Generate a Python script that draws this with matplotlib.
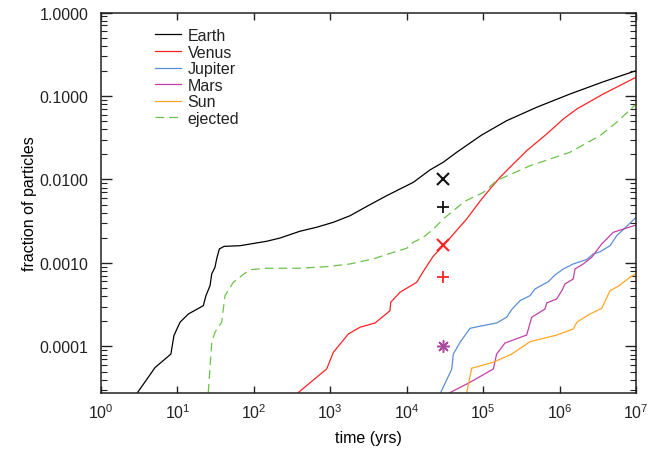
import numpy as np
import matplotlib
matplotlib.use("Agg")
import matplotlib.pyplot as plt
from matplotlib.ticker import FixedLocator, FuncFormatter, LogLocator, NullLocator

plt.rcParams['font.family'] = ['Liberation Sans', 'DejaVu Sans']
plt.rcParams['mathtext.default'] = 'regular'
plt.rcParams['font.size'] = 11.5
plt.rcParams['text.color'] = '#222222'

# ---- data (time in yrs, fraction of particles) ----
earth_t = [3.0, 5.1, 8.2, 9.0, 10.8, 13.9, 21.8, 23.6, 26.7, 28.1, 31.0, 32.6, 35.3, 40.7,
           65.9, 147, 220, 401, 664, 1095, 1810, 2990, 5470, 12200, 20100, 30100, 45100,
           95700, 203000, 502000, 1.37e6, 3.73e6, 1e7]
earth_f = [2.8e-5, 5.6e-5, 8.1e-5, 1.35e-4, 1.95e-4, 2.45e-4, 3.08e-4, 4.06e-4, 5.35e-4, 7.4e-4,
           8.9e-4, 1.12e-3, 1.47e-3, 1.58e-3, 1.61e-3, 1.82e-3, 1.99e-3, 2.40e-3, 2.68e-3,
           3.07e-3, 3.68e-3, 4.75e-3, 6.4e-3, 9.25e-3, 0.0130, 0.0161, 0.0212, 0.0341, 0.0506,
           0.0733, 0.1057, 0.148, 0.201]

venus_t = [380, 897, 1095, 1720, 2450, 3850, 6040, 6170, 8170, 13500, 17300, 22300, 30100,
           42800, 61000, 91000, 123000, 166000, 224000, 371000, 679000, 1.12e6, 1.68e6,
           3.73e6, 1e7]
venus_f = [2.8e-5, 5.38e-5, 8.5e-5, 1.41e-4, 1.70e-4, 1.91e-4, 2.68e-4, 3.38e-4, 4.46e-4,
           5.87e-4, 8.5e-4, 1.21e-3, 1.61e-3, 2.33e-3, 3.37e-3, 5.5e-3, 7.7e-3, 0.0106, 0.014,
           0.0221, 0.0351, 0.0531, 0.0699, 0.1057, 0.1675]

jupiter_t = [27800, 38800, 40700, 49800, 67300, 91000, 150000, 203000, 236000, 304000, 410000,
             477000, 712000, 871000, 1.12e6, 1.51e6, 2.26e6, 2.76e6, 3.38e6, 4.57e6, 5.59e6,
             6.82e6, 1e7]
jupiter_f = [2.8e-5, 5.35e-5, 8.1e-5, 1.12e-4, 1.65e-4, 1.75e-4, 1.91e-4, 2.24e-4, 2.76e-4,
             3.54e-4, 4.06e-4, 4.88e-4, 5.97e-4, 7.18e-4, 8.48e-4, 9.73e-4, 1.10e-3, 1.28e-3,
             1.36e-3, 1.61e-3, 2.12e-3, 2.51e-3, 3.52e-3]

mars_t = [36800, 67300, 136000, 150000, 193000, 371000, 432000, 645000, 678000, 917000,
          1.07e6, 1.18e6, 1.51e6, 1.59e6, 2.04e6, 2.63e6, 3.56e6, 5.05e6, 1e7]
mars_f = [2.8e-5, 3.72e-5, 5.38e-5, 8.1e-5, 1.10e-4, 1.37e-4, 2.24e-4, 2.81e-4, 3.32e-4,
          3.71e-4, 4.66e-4, 5.61e-4, 6.43e-4, 8.48e-4, 9.73e-4, 1.17e-3, 1.69e-3, 2.33e-3,
          2.85e-3]

sun_t = [61000, 70800, 136000, 236000, 410000, 917000, 1.51e6, 1.68e6, 2.50e6, 3.56e6,
         4.57e6, 5.87e6, 8.34e6, 1e7]
sun_f = [2.8e-5, 5.48e-5, 6.47e-5, 8.1e-5, 1.14e-4, 1.37e-4, 1.62e-4, 1.95e-4, 2.45e-4,
         2.86e-4, 4.66e-4, 5.26e-4, 6.74e-4, 7.4e-4]

ejected_t = [25.3, 28.1, 31.0, 37.9, 41.9, 53.8, 74.3, 89.1, 147, 401, 897, 1810, 3650, 6670,
             10000, 12200, 16500, 22300, 30100, 57800, 100500, 150000, 410000, 1.37e6,
             3.38e6, 5.59e6, 1e7]
ejected_f = [2.8e-5, 1.12e-4, 1.48e-4, 1.95e-4, 4.06e-4, 5.87e-4, 7.4e-4, 8.3e-4, 8.65e-4,
             8.65e-4, 9.04e-4, 9.73e-4, 1.12e-3, 1.34e-3, 1.50e-3, 1.77e-3, 2.03e-3, 2.55e-3,
             3.37e-3, 5.5e-3, 7.0e-3, 9.7e-3, 0.0146, 0.0212, 0.0335, 0.0484, 0.080]

marker_t = 3.0e4
earth_x_f, earth_plus_f = 0.0101, 0.0047
venus_x_f, venus_plus_f = 0.00162, 0.00068
star_f = 0.0001

labels = ['Earth', 'Venus', 'Jupiter', 'Mars', 'Sun', 'ejected']
colors = ['#000000', '#ff2222', '#5b8fd4', '#c040a8', '#ffa526', '#6cc24a']

fig = plt.figure(figsize=(6.59, 4.52), dpi=100)
ax = fig.add_axes([0.1533, 0.1283, 0.8118, 0.8418])

lw = 0.9
series = [(earth_t, earth_f), (venus_t, venus_f), (jupiter_t, jupiter_f),
          (mars_t, mars_f), (sun_t, sun_f)]
for (t, f), lab, c in zip(series, labels[:5], colors[:5]):
    ax.plot(t, f, color=c, lw=lw, label=lab)
ax.plot(ejected_t, ejected_f, color=colors[5], lw=lw, dashes=(7, 4), label=labels[5])

ax.plot([marker_t], [earth_x_f], marker='x', color='#111111', ms=9, mew=1.5, ls='none')
ax.plot([marker_t], [earth_plus_f], marker='+', color='#111111', ms=9, mew=1.3, ls='none')
ax.plot([marker_t], [venus_x_f], marker='x', color='#ff2222', ms=9, mew=1.5, ls='none')
ax.plot([marker_t], [venus_plus_f], marker='+', color='#ff2222', ms=9, mew=1.3, ls='none')
ax.plot([marker_t], [star_f], marker=(8, 2, 0), color='#a8489e', ms=9, mew=1.1, ls='none')

ax.set_xscale('log')
ax.set_yscale('log')
ax.set_xlim(1, 1e7)
ax.set_ylim(2.77e-5, 1.0)

ax.xaxis.set_major_locator(FixedLocator([10.0 ** k for k in range(8)]))
ax.xaxis.set_minor_locator(NullLocator())
ax.yaxis.set_major_locator(FixedLocator([1e-4, 1e-3, 1e-2, 1e-1, 1.0]))
ax.yaxis.set_minor_locator(LogLocator(base=10, subs=np.arange(2, 10)))
ax.yaxis.set_major_formatter(FuncFormatter(lambda v, p: '%.4f' % v))
ax.xaxis.set_major_formatter(FuncFormatter(lambda v, p: r'$10^{%d}$' % round(np.log10(v))))

ax.tick_params(which='both', direction='in', top=True, right=True, colors='#222222',
               labelcolor='#222222')
ax.tick_params(axis='x', which='major', length=5, width=1.0, pad=7)
ax.tick_params(axis='y', which='major', length=8, width=1.0, pad=9)
ax.tick_params(axis='y', which='minor', length=4.3, width=0.8)
for s in ax.spines.values():
    s.set_color('#222222')
    s.set_linewidth(1.1)

ax.set_xlabel('time (yrs)', labelpad=6)
ax.set_ylabel('fraction of particles', labelpad=2)

ax.legend(loc='upper left', bbox_to_anchor=(155 / 659, 1 - 29 / 452),
          bbox_transform=fig.transFigure, frameon=False, borderpad=0, borderaxespad=0,
          handlelength=1.6, handletextpad=0.45, labelspacing=0.1)

fig.savefig('out.png', dpi=100)
